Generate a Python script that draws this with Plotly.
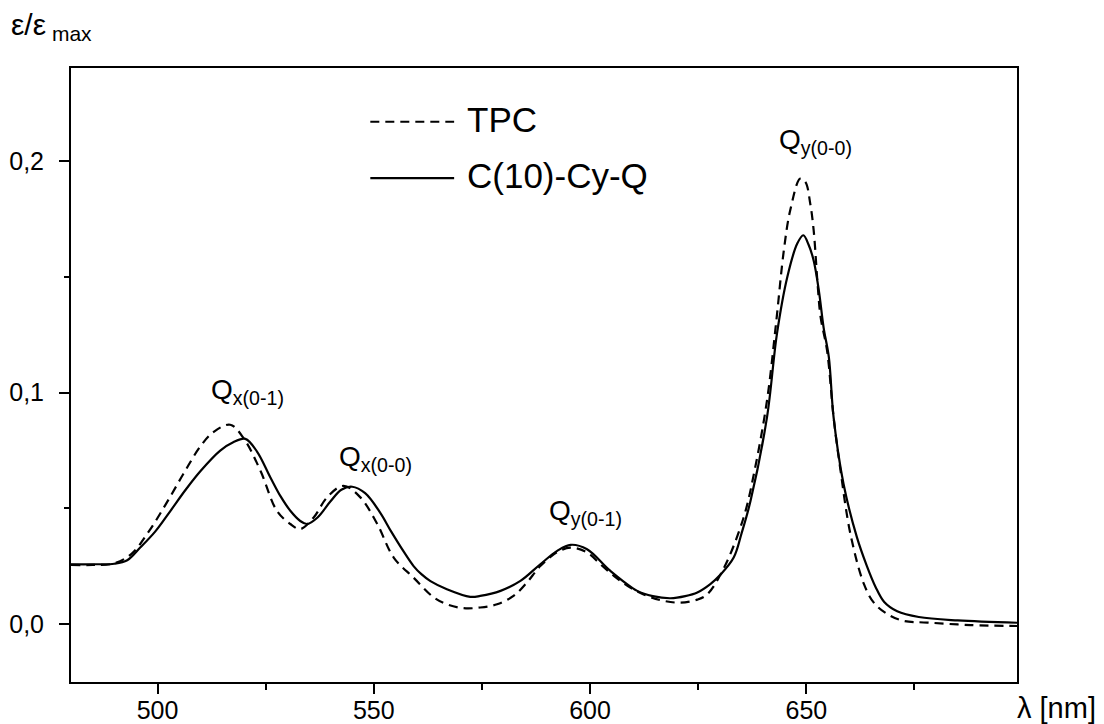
import plotly.graph_objects as go

# ---- data ----
tpc_nm = [480, 485, 490, 494, 498, 502, 506, 510, 513, 516.8, 520, 523.8, 527.6, 530.7, 533,
          536.1, 539.2, 543, 546.9, 550.8, 554.6, 559.2, 563.9, 566.9, 570.8, 574.6, 578.5,
          582.3, 585.4, 588.5, 592.4, 595.5, 599.3, 602.4, 605.5, 609.3, 613.2, 617, 620.9,
          624.8, 627.1, 631, 635.5, 638, 640.9, 643, 644.8, 646.3, 648.6, 649.8, 650.9, 651.7,
          652.6, 653.3, 654.8, 656.3, 657.8, 660.2, 663.3, 665.6, 668.7, 672.5, 678, 688, 698.7]
tpc_val = [0.0255, 0.0255, 0.0262, 0.0303, 0.040, 0.052, 0.0649, 0.077, 0.083, 0.0861, 0.080,
           0.0662, 0.0489, 0.0432, 0.041, 0.046, 0.0547, 0.0597, 0.0547, 0.0432, 0.0287, 0.020,
           0.0114, 0.0085, 0.0068, 0.0071, 0.0085, 0.0121, 0.0179, 0.025, 0.031, 0.033, 0.0309,
           0.0258, 0.0208, 0.0157, 0.0121, 0.010, 0.0092, 0.0105, 0.0128, 0.0244, 0.046, 0.066,
           0.0965, 0.130, 0.1615, 0.179, 0.1925, 0.191, 0.1817, 0.170, 0.147, 0.1326, 0.118,
           0.0893, 0.0677, 0.0388, 0.0173, 0.0092, 0.0043, 0.0013, 0.0006, -0.0005, -0.0009]

cyq_nm = [480, 485, 490, 493, 496, 499.5, 503, 506.5, 510, 514.5, 517.5, 520.3, 523, 526.1,
          528.5, 530.7, 533, 534.6, 537, 540, 542.5, 545, 548, 551.5, 554, 557, 559.2, 561, 563.1,
          566.9, 572.3, 574.6, 579.3, 583.9, 588.5, 592.4, 595.5, 599.3, 604.7, 610.9, 614.5,
          618.6, 622, 624.8, 627.8, 630, 633.2, 635, 637.1, 640.9, 643.2, 645.6, 647.9, 649.3,
          650.5, 651.7, 652.9, 654, 655.2, 656.3, 658.6, 661.7, 664, 666, 668, 671, 676, 685, 698.7]
cyq_val = [0.0258, 0.0258, 0.026, 0.0275, 0.033, 0.040, 0.0489, 0.058, 0.0662, 0.0749, 0.0785,
           0.080, 0.0745, 0.0633, 0.055, 0.0489, 0.0445, 0.0432, 0.046, 0.053, 0.058, 0.0593,
           0.0565, 0.048, 0.040, 0.031, 0.025, 0.0215, 0.0185, 0.015, 0.0117, 0.0121, 0.0143,
           0.0186, 0.0258, 0.0316, 0.0342, 0.0323, 0.0229, 0.0143, 0.012, 0.0111, 0.012, 0.0136,
           0.0172, 0.021, 0.0287, 0.039, 0.0532, 0.0893, 0.1254, 0.150, 0.1644, 0.168, 0.164,
           0.157, 0.144, 0.128, 0.1153, 0.0893, 0.0605, 0.0374, 0.025, 0.016, 0.0095, 0.0055,
           0.003, 0.0015, 0.0005]

series_names = ["TPC", "C(10)-Cy-Q"]

# band labels: (text, x in nm, y value)
band_labels = [
    ("Q<sub>x(0-1)</sub>", 512.0, 0.1004),
    ("Q<sub>x(0-0)</sub>", 541.5, 0.0714),
    ("Q<sub>y(0-1)</sub>", 590.1, 0.0482),
    ("Q<sub>y(0-0)</sub>", 643.3, 0.2085),
]

FONT = "Liberation Sans, Arial, sans-serif"

fig = go.Figure()
fig.add_trace(go.Scatter(x=tpc_nm, y=tpc_val, mode="lines", name=series_names[0],
                         line=dict(color="black", width=2.2, dash="9px,6px", shape="spline", smoothing=1.0),
                         showlegend=False))
fig.add_trace(go.Scatter(x=cyq_nm, y=cyq_val, mode="lines", name=series_names[1],
                         line=dict(color="black", width=2.2, shape="spline", smoothing=1.0),
                         showlegend=False))

annotations = []
for text, xv, yv in band_labels:
    annotations.append(dict(text=text, x=xv, y=yv, xref="x", yref="y", xanchor="left",
                            yanchor="middle", showarrow=False,
                            font=dict(family=FONT, size=28, color="black")))

# hand-built legend (long line samples as in the reference)
leg_y = [0.9125, 0.8208]
leg_dash = ["9px,6px", "solid"]
shapes = []
for i, name in enumerate(series_names):
    shapes.append(dict(type="line", xref="paper", yref="paper", x0=0.3164, x1=0.405,
                       y0=leg_y[i], y1=leg_y[i], line=dict(color="black", width=2.2, dash=leg_dash[i])))
    annotations.append(dict(text=name, x=0.4168, y=leg_y[i] + 0.004, xref="paper", yref="paper",
                            xanchor="left", yanchor="middle", showarrow=False,
                            font=dict(family=FONT, size=35, color="black")))

# axis titles
annotations.append(dict(text="ε/ε<sub> max</sub>", x=-0.066, y=1.035, xref="paper", yref="paper",
                        xanchor="left", yanchor="bottom",
                        showarrow=False, font=dict(family=FONT, size=30, color="black")))
annotations.append(dict(text="λ [nm]", x=1.0, y=0, xref="paper", yref="paper", xanchor="left",
                        yanchor="top", yshift=-8, xshift=-2, showarrow=False,
                        font=dict(family=FONT, size=29, color="black")))

# page body has an 8px default margin, so the figure is 8px smaller than the window
fig.update_layout(
    width=1096, height=716,
    margin=dict(l=63, r=87, t=60, b=42, autoexpand=False),
    paper_bgcolor="white", plot_bgcolor="white",
    separators=",.",
    font=dict(family=FONT, size=25, color="black"),
    annotations=annotations, shapes=shapes,
    showlegend=False,
)
fig.update_xaxes(range=[480, 698.7], showline=True, linewidth=2, linecolor="black", mirror=True,
                 ticks="outside", ticklen=10, tickwidth=2, tickcolor="black", tick0=500, dtick=50,
                 showgrid=False, zeroline=False, ticklabelstandoff=-5, automargin=False,
                 minor=dict(ticks="outside", ticklen=6, tickwidth=2, tickcolor="black",
                            tick0=475, dtick=25, showgrid=False))
fig.update_yaxes(range=[-0.0251, 0.2403], showline=True, linewidth=2, linecolor="black", mirror=True,
                 ticks="outside", ticklen=10, tickwidth=2, tickcolor="black", tick0=0, dtick=0.1,
                 tickformat=".1f", showgrid=False, zeroline=False, ticklabelstandoff=10,
                 automargin=False,
                 minor=dict(ticks="outside", ticklen=5, tickwidth=2, tickcolor="black",
                            tick0=0, dtick=0.05, showgrid=False))

fig.write_html("out.html")
